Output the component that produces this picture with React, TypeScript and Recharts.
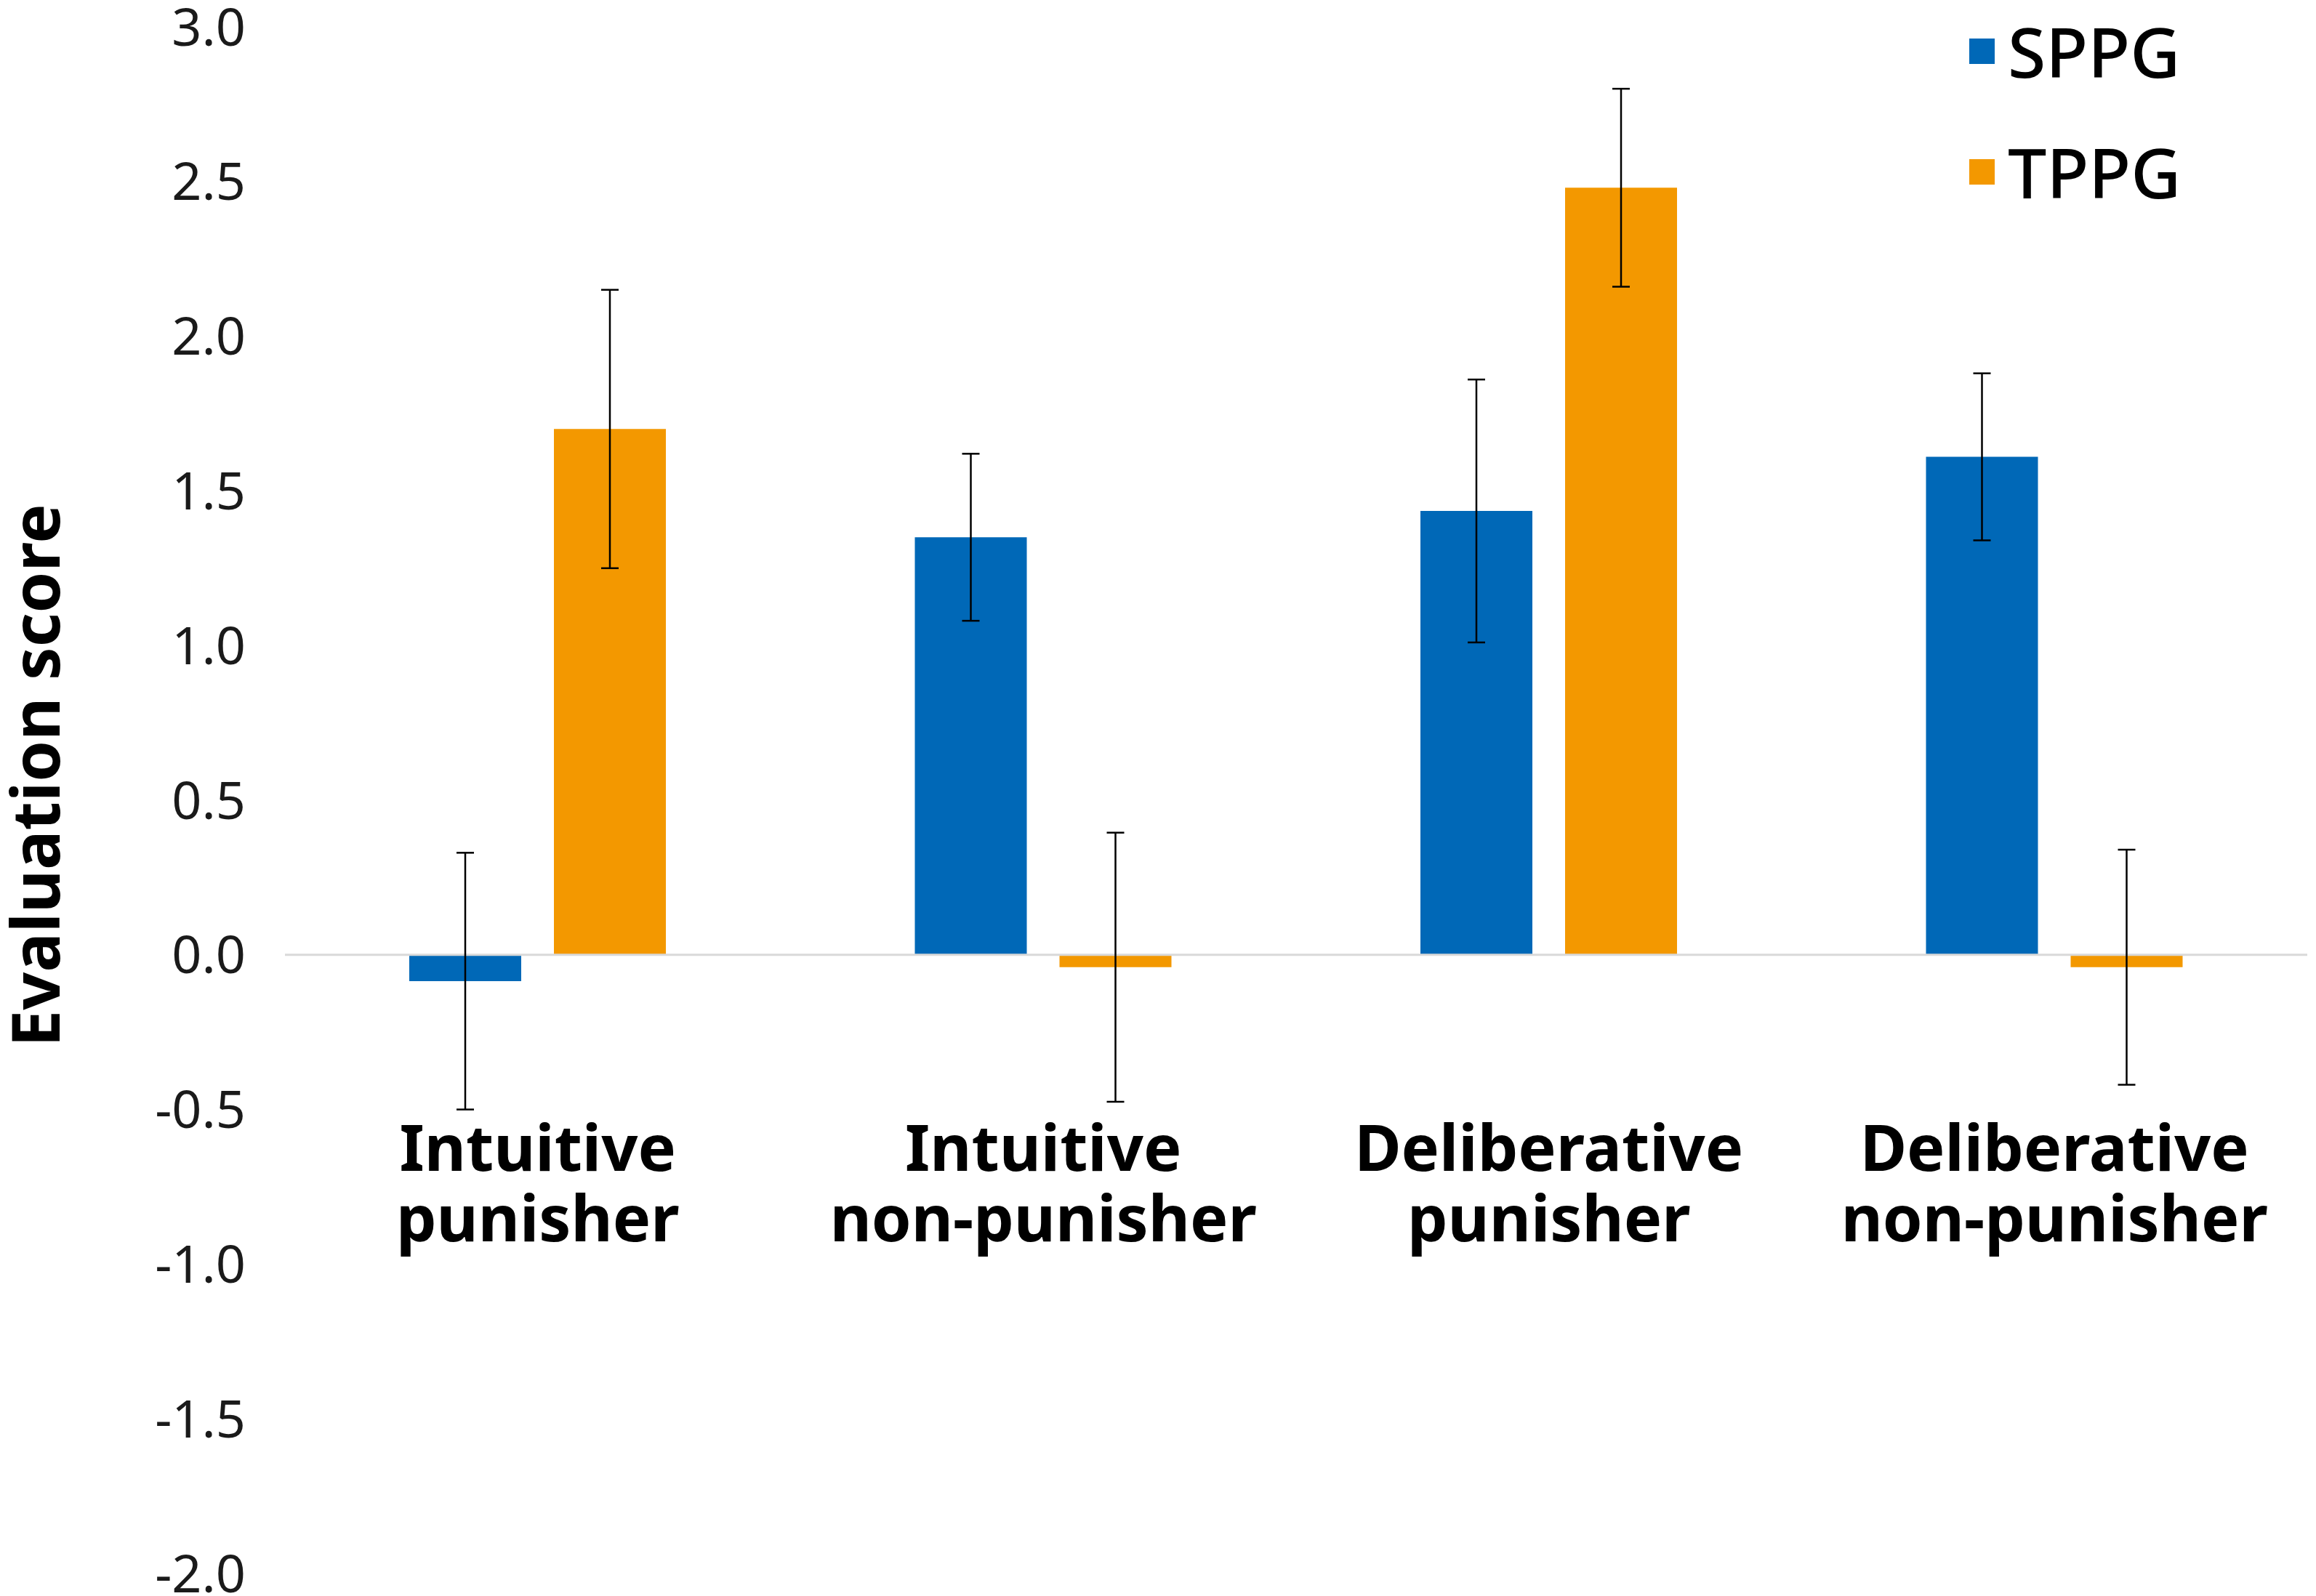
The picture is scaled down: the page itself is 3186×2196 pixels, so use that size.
import React from 'react';
import { BarChart, Bar, XAxis, YAxis, ErrorBar, ReferenceLine, Legend, Label } from 'recharts';

const CATEGORIES = ['Intuitive punisher', 'Intuitive non-punisher', 'Deliberative punisher', 'Deliberative non-punisher'];
const SPPG = [-0.085, 1.35, 1.435, 1.61];
const SPPG_ERR = [0.415, 0.27, 0.425, 0.27];
const TPPG = [1.7, -0.04, 2.48, -0.04];
const TPPG_ERR = [0.45, 0.435, 0.32, 0.38];
const Y_TICKS = [-2, -1.5, -1, -0.5, 0, 0.5, 1, 1.5, 2, 2.5, 3];

const BLUE = '#0068B7';
const ORANGE = '#F39800';
const FONT = '"Noto Sans", sans-serif';

const data = CATEGORIES.map((name, i) => ({
  name,
  sppg: SPPG[i],
  sppgErr: SPPG_ERR[i],
  tppg: TPPG[i],
  tppgErr: TPPG_ERR[i],
}));

// two-line category label, drawn up under the zero line like the original
const CategoryTick = ({ x, y, payload }: { x?: number; y?: number; payload?: { value: string } }) => {
  const text = payload?.value ?? '';
  const cut = text.indexOf(' ');
  const first = text.slice(0, cut);
  const second = text.slice(cut + 1);
  return (
    <text x={x} y={(y ?? 0) - 554} textAnchor="middle" fontFamily={FONT} fontWeight={700} fontSize={88} fill="#000">
      <tspan x={x}>{first}</tspan>
      <tspan x={x} dy={97}>{second}</tspan>
    </text>
  );
};

const AxisTitle = ({ viewBox }: { viewBox?: { x: number; y: number; width: number; height: number } }) => {
  if (!viewBox) return null;
  const cx = viewBox.x + 82;
  const cy = viewBox.y + viewBox.height / 2 - 34;
  return (
    <text
      x={cx}
      y={cy}
      transform={`rotate(-90, ${cx}, ${cy})`}
      textAnchor="middle"
      fontFamily={FONT}
      fontWeight={700}
      fontSize={91}
      fill="#000"
    >
      Evaluation score
    </text>
  );
};

const LegendBox = ({ payload }: { payload?: { value: string; color: string }[] }) => (
  <div style={{ fontFamily: FONT }}>
    {(payload ?? []).map((item) => (
      <div key={item.value} style={{ display: 'flex', alignItems: 'center', height: 84, marginBottom: 82 }}>
        <span style={{ width: 35, height: 35, background: item.color, display: 'inline-block', marginRight: 18 }} />
        <span style={{ fontSize: 95, fontWeight: 500, color: '#000', lineHeight: '84px' }}>{item.value}</span>
      </div>
    ))}
  </div>
);

export default function App() {
  return (
    <div style={{ position: 'absolute', left: 0, top: 0, background: '#fff' }}>
      <BarChart
        width={3186}
        height={2196}
        data={data}
        margin={{ top: 37, right: 12, bottom: 0, left: 0 }}
        barSize={154}
        barGap={45}
      >
        <XAxis
          dataKey="name"
          height={31}
          axisLine={false}
          tickLine={false}
          tickSize={0}
          tickMargin={0}
          interval={0}
          tick={<CategoryTick />}
        />
        <YAxis
          width={392}
          domain={[-2, 3]}
          ticks={Y_TICKS}
          interval={0}
          axisLine={false}
          tickLine={false}
          tickSize={0}
          tickMargin={54}
          tickFormatter={(v: number) => v.toFixed(1)}
          tick={{ fontFamily: FONT, fontSize: 72, fill: '#1a1a1a' }}
        >
          <Label content={<AxisTitle />} />
        </YAxis>
        <ReferenceLine y={0} stroke="#D9D9D9" strokeWidth={3} />
        <Legend
          layout="horizontal"
          verticalAlign="middle"
          align="center"
          content={<LegendBox />}
          wrapperStyle={{ left: 2709, top: 28, width: 'auto', height: 'auto' }}
        />
        <Bar dataKey="sppg" name="SPPG" fill={BLUE} isAnimationActive={false}>
          <ErrorBar dataKey="sppgErr" direction="y" width={12} stroke="#000" strokeWidth={2.5} isAnimationActive={false} />
        </Bar>
        <Bar dataKey="tppg" name="TPPG" fill={ORANGE} isAnimationActive={false}>
          <ErrorBar dataKey="tppgErr" direction="y" width={12} stroke="#000" strokeWidth={2.5} isAnimationActive={false} />
        </Bar>
      </BarChart>
    </div>
  );
}
